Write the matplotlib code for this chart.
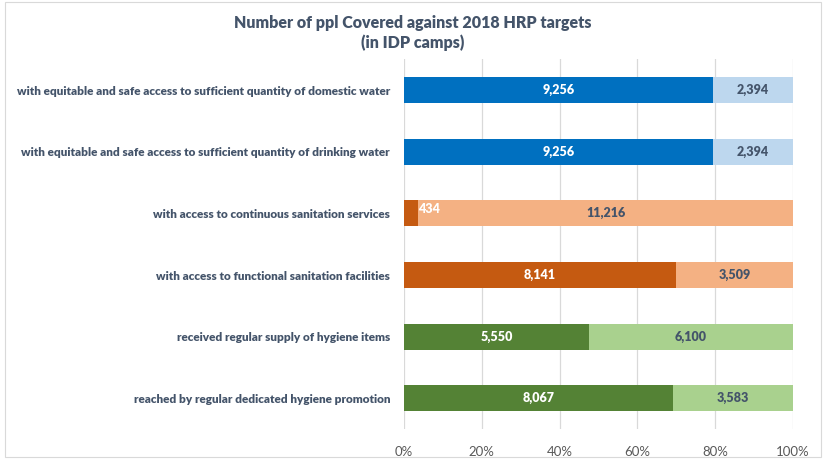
import matplotlib.pyplot as plt
from matplotlib.patches import Rectangle

plt.rcParams['font.family'] = ['Lato', 'DejaVu Sans']

# data (top to bottom)
categories = [
    "with equitable and safe access to sufficient quantity of domestic water",
    "with equitable and safe access to sufficient quantity of drinking water",
    "with access to continuous sanitation services",
    "with access to functional sanitation facilities",
    "received regular supply of hygiene items",
    "reached by regular dedicated hygiene promotion",
]
covered = [9256, 9256, 434, 8141, 5550, 8067]
remaining = [2394, 2394, 11216, 3509, 6100, 3583]
dark_colors = ["#0070C0", "#0070C0", "#C55A11", "#C55A11", "#548235", "#548235"]
light_colors = ["#BDD7EE", "#BDD7EE", "#F4B183", "#F4B183", "#A9D18E", "#A9D18E"]

fig = plt.figure(figsize=(8.26, 4.59), dpi=100)
ax = fig.add_axes([0.489, 0.065, 0.471, 0.806])

text_col = "#44546A"
ypos = list(range(len(categories)))[::-1]
for y, c, r, dc, lc in zip(ypos, covered, remaining, dark_colors, light_colors):
    tot = c + r
    pc = c / tot * 100
    pr = r / tot * 100
    ax.barh(y, pc, height=0.42, color=dc, zorder=2)
    ax.barh(y, pr, left=pc, height=0.42, color=lc, zorder=2)
    if pc < 10:
        ax.text(pc, y + 0.07, f"{c:,}", ha='left', va='center', color='white',
                fontsize=9, fontweight='heavy', zorder=3)
    else:
        ax.text(pc / 2, y, f"{c:,}", ha='center', va='center', color='white',
                fontsize=9, fontweight='heavy', zorder=3)
    ax.text(pc + pr / 2, y, f"{r:,}", ha='center', va='center', color=text_col,
            fontsize=9, fontweight='heavy', zorder=3)

ax.set_xlim(0, 100)
ax.set_ylim(-0.5, 5.5)
ax.set_xticks([0, 20, 40, 60, 80, 100])
ax.set_xticklabels([f"{t}%" for t in [0, 20, 40, 60, 80, 100]], color="#595959", fontsize=9.5)
ax.set_yticks(ypos)
ax.set_yticklabels(categories, color=text_col, fontsize=8.5, fontweight='heavy')
ax.tick_params(axis='both', length=0, pad=12)
ax.tick_params(axis='y', pad=10)
ax.grid(axis='x', color="#D9D9D9", linewidth=0.9, zorder=0)
for s in ax.spines.values():
    s.set_visible(False)

fig.text(0.5, 0.968, "Number of ppl Covered against 2018 HRP targets\n(in IDP camps)",
         ha='center', va='top', fontsize=11.5, fontweight='heavy', color=text_col,
         linespacing=1.3)

fig.patches.append(Rectangle((0.006, 0.004), 0.988, 0.992, transform=fig.transFigure,
                             fill=False, edgecolor="#D9D9D9", linewidth=0.8))

fig.savefig("out.png", dpi=100)
